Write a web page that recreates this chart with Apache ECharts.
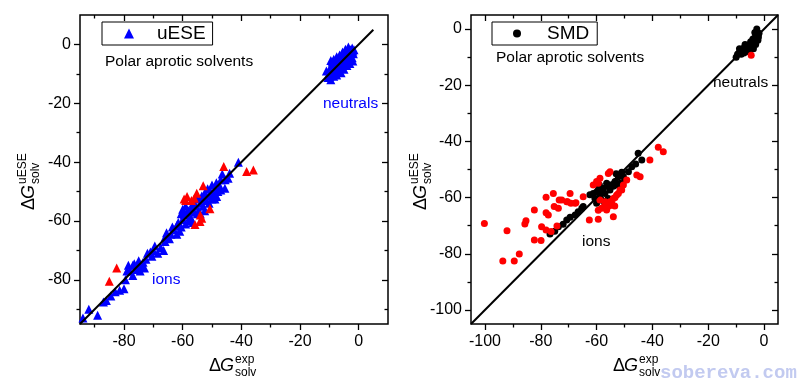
<!DOCTYPE html>
<html><head><meta charset="utf-8">
<script src="https://cdn.jsdelivr.net/npm/echarts@6/dist/echarts.min.js"></script>
<style>html,body{margin:0;padding:0;background:#fff}#c{width:805px;height:387px}</style>
</head><body><div id="c"></div>
<script>
// ---------- data (kcal/mol) ----------
const leftRange = [-95, 10];
const rightRange = [-105, 5];
const leftMajorTicks = [-80, -60, -40, -20, 0];
const leftMinorTicks = [-90, -70, -50, -30, -10];
const rightMajorTicks = [-100, -80, -60, -40, -20, 0];
const rightMinorTicks = [-90, -70, -50, -30, -10];
const leftDiag = [[-95, -95], [5, 5]];
const rightDiag = [[-105, -105], [5, 5]];

const leftBlueNeutrals = [
 [-10.5,-11.2],[-10.2,-10.0],[-9.8,-10.8],[-9.5,-9.2],[-9.3,-8.0],[-9.0,-9.8],[-8.8,-7.2],[-8.5,-8.6],
 [-8.2,-9.5],[-8.0,-7.8],[-7.8,-6.5],[-7.5,-8.2],[-7.2,-7.0],[-7.0,-5.8],[-6.8,-7.5],[-6.5,-6.2],
 [-6.2,-5.0],[-6.0,-6.8],[-5.8,-4.5],[-5.5,-5.6],[-5.2,-6.2],[-5.0,-4.2],[-4.8,-3.5],[-4.5,-5.0],
 [-4.2,-3.0],[-4.0,-4.2],[-3.8,-2.5],[-3.5,-3.6],[-3.2,-2.0],[-3.0,-3.2],[-2.8,-1.8],[-2.5,-2.8],
 [-2.2,-1.2],[-2.0,-2.2],[-9.0,-6.0],[-10.0,-8.5],[-7.0,-9.0],[-6.0,-8.0],[-2.2,-4.5],[-3.0,-5.0],
 [-11.0,-9.0],[-9.5,-5.5],[-8.5,-5.0],[-7.5,-4.2],[-6.5,-3.6],[-5.5,-2.6],[-4.5,-1.6],[-3.5,-0.9],
 [-1.8,-3.2],[-2.0,-5.6],[-3.0,-6.5],[-4.0,-7.2],[-5.0,-8.4],[-6.0,-9.6],[-7.5,-10.4],[-9.5,-12.0],
 [-8.5,-10.8],[-4.0,-6.0],[-5.0,-3.0],[-1.6,-1.8]
];
const leftBlueIons = [
 [-94,-93],[-92,-90],[-89,-92],[-87,-87.5],[-86,-87],[-84.5,-85.5],[-83,-84],[-81.5,-83.5],[-80,-83],
 [-79.5,-80],[-78.5,-75],[-78,-77],[-77,-78.5],[-76.5,-74.5],[-76,-76.5],[-75,-73.5],[-74.5,-77],
 [-74,-75],[-73,-76],[-72.5,-73],[-71,-70.5],[-70.5,-72],[-70,-70],[-69.5,-68.5],[-68.5,-71],
 [-67.5,-69],[-66.5,-70],[-66,-67],[-65.5,-64],[-64.5,-66],[-63,-63],[-62,-61.5],[-61.5,-60.5],
 [-61,-63.5],[-60.5,-62],[-60,-59.5],[-60,-56],[-59.5,-58],[-58.5,-57],[-58,-60],[-57.5,-58.5],
 [-57,-55.5],[-56.5,-54],[-56,-57],[-55.5,-55],[-55,-52.5],[-54.5,-56.5],[-54,-54],[-53.5,-51.5],
 [-53,-55],[-52.5,-50.5],[-52,-53],[-51.5,-49],[-51,-51.5],[-50.5,-50],[-50,-47.8],[-49.5,-51],
 [-49,-49],[-48.5,-47],[-48.4,-51.7],[-48,-50],[-47.3,-48.3],[-47,-46],[-46.5,-44],[-45.6,-48.9],
 [-45.5,-46],[-44.5,-45.5],[-44,-43.8],[-41,-40],[-59,-61],[-62,-64.5],[-66,-65.5],[-75,-75.5],
 [-77,-75],[-57,-59.5],[-55,-57.5],[-53,-52.5],[-50,-52.5],[-60.5,-57.5],[-59,-55],[-58,-56.5],
 [-56.5,-60.5],[-54,-57.5],[-52.5,-56.5],[-51,-54],[-49,-52.5],[-47,-49.5],[-63.5,-62],[-64,-64.5],
 [-72,-71],[-79,-77],[-73.5,-74]
];
const leftRed = [
 [-85,-80.5],[-82.5,-76],[-59,-53],[-58.5,-51.7],[-57,-53],[-56,-52.3],[-55.2,-50.6],[-53,-48],
 [-46,-41.5],[-38.2,-43.2],[-35.9,-42.7],[-50.7,-55.8],[-53.5,-59.1],[-54.1,-60.2],[-55.8,-61.2],
 [-54,-58],[-59.5,-52.5]
];
const rightBlackNeutrals = [
 [-10,-10],[-9.5,-9],[-9,-8.5],[-8.5,-7.5],[-8.2,-9],[-8,-8],[-7.5,-7],[-7.2,-8.5],[-7,-6.5],
 [-6.5,-7.5],[-6.2,-6],[-6,-8],[-5.5,-6.8],[-5.2,-5.5],[-5,-7.5],[-4.8,-4.5],[-4.5,-6],[-4.2,-5],
 [-4,-3.5],[-3.8,-7],[-3.5,-4.5],[-3.2,-3],[-3,-5.5],[-2.8,-2],[-2.6,0],[-2.5,-3.5],[-2.2,-4],
 [-2,-2.8],[-1.8,-1.5],[-6.8,-5.5],[-8.8,-7],[-3.3,-1.2]
];
const rightBlackIons = [
 [-76.7,-73],[-75,-72],[-73.7,-70.4],[-72,-69.5],[-70.7,-68],[-69.5,-67],[-67.7,-66.2],[-66.6,-65],
 [-65.3,-63.8],[-64.8,-63.2],[-62.4,-59],[-61.2,-58.5],[-60.6,-60.3],[-60,-62],[-59.4,-57.3],
 [-58.8,-59.1],[-58.2,-60.9],[-57.6,-56.7],[-57,-58.5],[-56.4,-54.9],[-55.8,-60.3],[-55.2,-57.3],
 [-54,-56],[-53.4,-54.3],[-52.2,-52.6],[-51.6,-54.9],[-50.4,-52.6],[-49.8,-53.7],[-48.6,-50.8],
 [-47.4,-49],[-46,-48],[-45.1,-44.2],[-43.8,-46.6],[-59,-55.5],[-57,-62],[-53,-51.5],[-56,-56],
 [-60,-58],[-58,-58],[-55,-55.5],[-52.5,-55.5],[-51,-51]
];
const rightRed = [
 [-100.2,-69.2],[-92.1,-71.8],[-93.6,-82.6],[-89.5,-82.6],[-87.7,-80.1],[-85.7,-69.4],[-85.3,-68.2],
 [-82.3,-64.4],[-82.3,-75.1],[-79.9,-75.3],[-79.7,-70.4],[-78.1,-65.4],[-77.3,-66.2],[-78.1,-71.5],
 [-76.3,-72.1],[-74.2,-70.1],[-75.2,-63.2],[-73.7,-63.8],[-73.4,-60.9],[-70.4,-61.5],[-69.2,-62],
 [-62.6,-68],[-59.4,-67.7],[-75.5,-58.5],[-78.1,-59.9],[-69.5,-58.5],[-67.4,-61.8],[-64.8,-59.7],
 [-54,-66.8],[-56.4,-64.4],[-58.8,-60.9],[-58.2,-63.8],[-56.4,-62.6],[-55.2,-61.5],[-54,-60.3],
 [-52.8,-59.1],[-51,-57.3],[-50.4,-55.5],[-49.2,-53.7],[-59.4,-54.9],[-58.8,-53.1],[-55.8,-51.4],
 [-61.2,-55.5],[-45.6,-52],[-44.4,-52.6],[-40.9,-46.6],[-37.9,-42.1],[-36.1,-43.7],[-55.2,-50.8],
 [-60,-54.3],[-51.6,-57.3],[-52.2,-58.5],[-53.4,-60],[-54.6,-62],[-57,-61.5],[-57.6,-63.5],
 [-55.5,-63],[-59.4,-64.5],[-53.5,-63],[-72.5,-60.9],[-70.7,-61.5],[-67.7,-62],[-4.6,-9.3]
];

// ---------- chart ----------
const FONT = '"Liberation Sans", Arial, sans-serif';
const grids = [
  {left: 80, top: 15, width: 308, height: 309},
  {left: 471, top: 15, width: 307, height: 309}
];
function makeAxes(dim, g, range, major, minor) {
  const pos = dim === 'x' ? ['bottom', 'top'] : ['left', 'right'];
  const base = {gridIndex: g, type: 'value', min: range[0], max: range[1],
    axisLine: {show: false, onZero: false}, splitLine: {show: false}};
  const tickStyle = {color: '#000', width: 1.3};
  return [
    Object.assign({}, base, {position: pos[0],
      axisTick: {show: true, inside: false, length: 6, customValues: major, lineStyle: tickStyle},
      axisLabel: {show: true, customValues: major, margin: dim === 'x' ? 10 : 9,
        fontSize: 16, color: '#000', fontFamily: FONT}}),
    Object.assign({}, base, {position: pos[0],
      axisTick: {show: true, inside: false, length: 3.5, customValues: minor, lineStyle: tickStyle},
      axisLabel: {show: false}}),
    Object.assign({}, base, {position: pos[1],
      axisTick: {show: true, inside: true, length: 6, customValues: major, lineStyle: tickStyle},
      axisLabel: {show: false}}),
    Object.assign({}, base, {position: pos[1],
      axisTick: {show: true, inside: true, length: 3.5, customValues: minor, lineStyle: tickStyle},
      axisLabel: {show: false}})
  ];
}
const xAxes = makeAxes('x', 0, leftRange, leftMajorTicks, leftMinorTicks)
  .concat(makeAxes('x', 1, rightRange, rightMajorTicks, rightMinorTicks));
const yAxes = makeAxes('y', 0, leftRange, leftMajorTicks, leftMinorTicks)
  .concat(makeAxes('y', 1, rightRange, rightMajorTicks, rightMinorTicks));

function titleGroup(x, y, rot, sup, sub) {
  return {type: 'group', x: x, y: y, rotation: rot, silent: true, children: [
    {type: 'text', x: 0, y: 0, style: {text: 'Δ', font: '18px ' + FONT, fill: '#000', align: 'left', verticalAlign: 'middle'}},
    {type: 'text', x: 11, y: 0, style: {text: 'G', font: 'italic 18px ' + FONT, fill: '#000', align: 'left', verticalAlign: 'middle'}},
    {type: 'text', x: 26, y: -6, style: {text: sup, font: '12px ' + FONT, fill: '#000', align: 'left', verticalAlign: 'middle'}},
    {type: 'text', x: 26, y: 7, style: {text: sub, font: '12px ' + FONT, fill: '#000', align: 'left', verticalAlign: 'middle'}}
  ]};
}
function label(x, y, text, color, size) {
  return {type: 'text', x: x, y: y, silent: true,
    style: {text: text, font: (size || 15.5) + 'px ' + FONT, fill: color, align: 'left', verticalAlign: 'middle'}};
}

const scatterBase = {type: 'scatter', silent: true, animation: false};
const option = {
  animation: false,
  backgroundColor: '#fff',
  grid: grids.map(g => Object.assign({show: true, borderColor: '#000', borderWidth: 1.5, backgroundColor: 'transparent'}, g)),
  xAxis: xAxes,
  yAxis: yAxes,
  legend: [
    {data: [{name: 'uESE', icon: 'triangle'}], selectedMode: false, left: 102, top: 22,
      padding: [2, 7, 2, 22], itemWidth: 10, itemHeight: 10, borderColor: '#000', borderWidth: 1,
      textStyle: {fontSize: 19, fontFamily: FONT, color: '#000', padding: [0, 0, 0, 18], lineHeight: 19}},
    {data: [{name: 'SMD', icon: 'circle'}], selectedMode: false, left: 492, top: 22,
      padding: [2, 8, 2, 21], itemWidth: 8, itemHeight: 8, borderColor: '#000', borderWidth: 1,
      textStyle: {fontSize: 19, fontFamily: FONT, color: '#000', padding: [0, 0, 0, 21], lineHeight: 19}}
  ],
  series: [
    Object.assign({}, scatterBase, {name: 'uESE', xAxisIndex: 0, yAxisIndex: 0, symbol: 'triangle', symbolSize: 9,
      itemStyle: {color: '#0000ff', opacity: 1}, data: leftBlueNeutrals.concat(leftBlueIons)}),
    Object.assign({}, scatterBase, {name: 'uESE outliers', xAxisIndex: 0, yAxisIndex: 0, symbol: 'triangle', symbolSize: 9,
      itemStyle: {color: '#ff0000', opacity: 1}, data: leftRed}),
    {type: 'line', name: 'diag1', xAxisIndex: 0, yAxisIndex: 0, data: leftDiag, showSymbol: false, silent: true,
      lineStyle: {color: '#000', width: 2}, z: 5},
    Object.assign({}, scatterBase, {name: 'SMD', xAxisIndex: 4, yAxisIndex: 4, symbol: 'circle', symbolSize: 7,
      itemStyle: {color: '#000', opacity: 1}, data: rightBlackNeutrals.concat(rightBlackIons)}),
    Object.assign({}, scatterBase, {name: 'SMD outliers', xAxisIndex: 4, yAxisIndex: 4, symbol: 'circle', symbolSize: 7,
      itemStyle: {color: '#ff0000', opacity: 1}, data: rightRed}),
    {type: 'line', name: 'diag2', xAxisIndex: 4, yAxisIndex: 4, data: rightDiag, showSymbol: false, silent: true,
      lineStyle: {color: '#000', width: 2}, z: 5}
  ],
  graphic: [
    label(105, 62, 'Polar aprotic solvents', '#000'),
    label(496, 58, 'Polar aprotic solvents', '#000'),
    label(323, 104, 'neutrals', '#0000ff'),
    label(152, 280, 'ions', '#0000ff'),
    label(713, 83, 'neutrals', '#000'),
    label(582, 242, 'ions', '#000'),
    titleGroup(209, 366, 0, 'exp', 'solv'),
    titleGroup(613, 366, 0, 'exp', 'solv'),
    titleGroup(29, 210, Math.PI / 2, 'uESE', 'solv'),
    titleGroup(421, 210, Math.PI / 2, 'uESE', 'solv'),
    {type: 'text', x: 660, y: 373, silent: true, z: 100,
      style: {text: 'sobereva.com', font: 'bold 19px "Liberation Mono", "DejaVu Sans Mono", monospace', fill: '#c2caf0', align: 'left', verticalAlign: 'middle'}}
  ]
};
const chart = echarts.init(document.getElementById('c'), null, {renderer: 'canvas'});
chart.setOption(option);
</script>
</body></html>
